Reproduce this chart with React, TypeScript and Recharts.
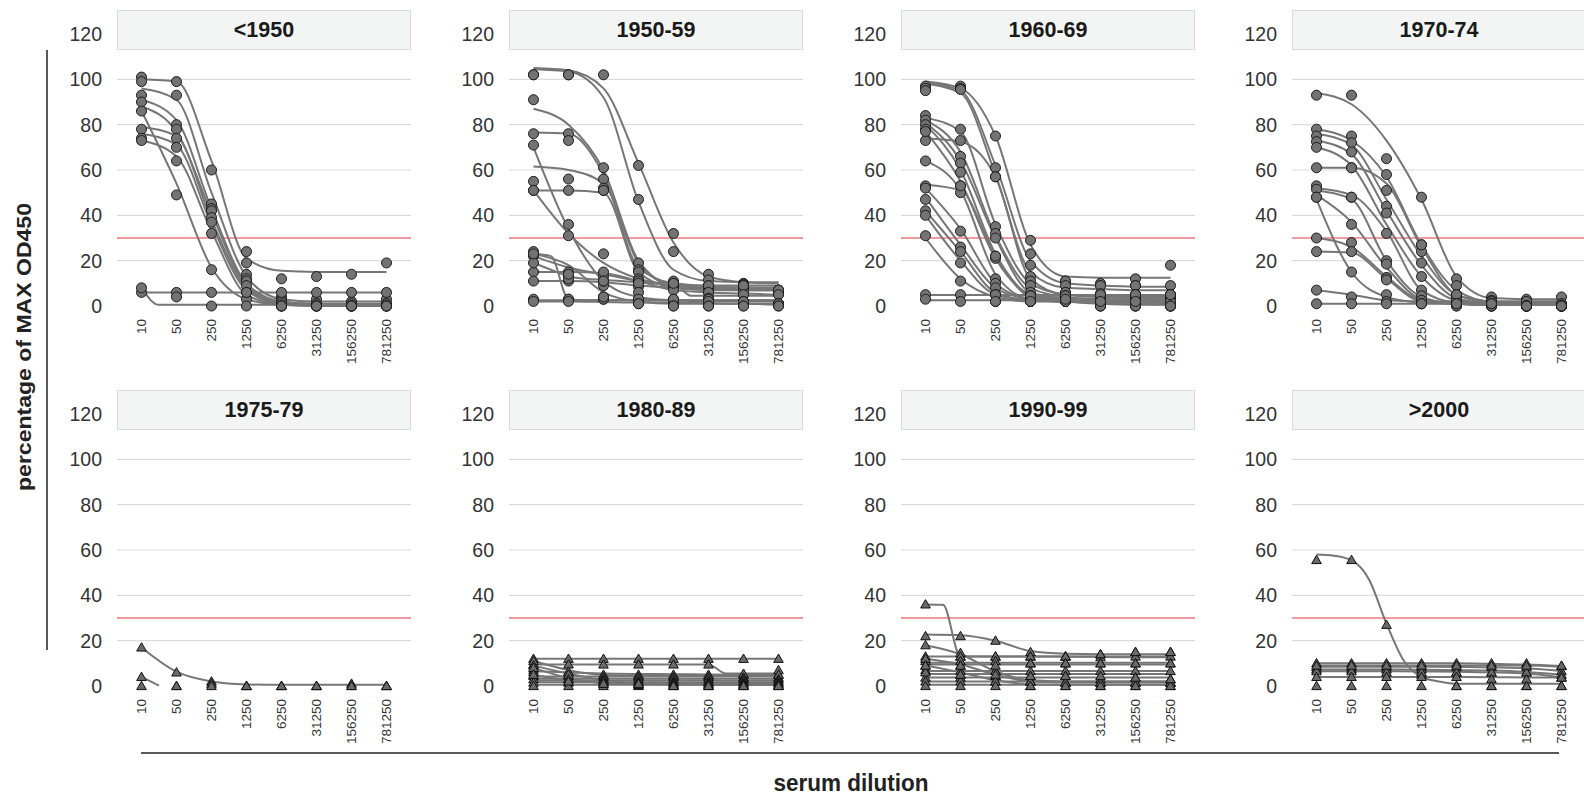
import React from 'react';
import { ComposedChart, Line, Scatter, XAxis, YAxis, CartesianGrid, ReferenceLine } from 'recharts';

const DILUTIONS = ['10', '50', '250', '1250', '6250', '31250', '156250', '781250'];
const Y_TICKS = [0, 20, 40, 60, 80, 100, 120];
const GRID_VALUES = [20, 40, 60, 80, 100];
const CUTOFF = 30;
const _ = null;

// measured OD450 (% of max) per serum, one value per dilution
// fitted curves: 8 values = one per dilution, 15 values = half-dilution steps
const pts1950 = [
  [101, 99, 60, 24, 12, 13, 14, 19],
  [99, 93, 45, 19, 4, 3, 2, 3],
  [93, 80, 43, 14, 3, 1, 1, 1],
  [90, 78, 42, 12, 2, 1, 0, 1],
  [86, 49, 16, 3, 0, 0, 0, 0],
  [78, 74, 39, 11, 1, 0, 0, 0],
  [74, 70, 37, 9, 0, 0, 0, 0],
  [73, 64, 32, 6, 0, 0, 0, 0],
  [6, 6, 6, 6, 6, 6, 6, 6],
  [8, 4, 0, 0, 0, 0, 0, 0],
];
const fit1950 = [
  [100, 99, 64, 21, 15.5, 15, 15, 15],
  [96, 91, 50, 13, 3, 2, 2, 2],
  [91, 82, 43, 10, 2, 1, 1, 1],
  [88, 77, 41, 9, 1.5, 1, 0.5, 0.5],
  [86, 54, 17, 3, 0.5, 0, 0, 0],
  [79, 75, 38, 8, 1, 0.5, 0.5, 0.5],
  [76, 71, 36, 7, 1, 0.5, 0, 0],
  [73, 66, 33, 5, 0.5, 0, 0, 0],
  [6, 6, 6, 6, 6, 6, 6, 6],
  [8, 0.5, 0.5, 0.5, 0.5, 0.5, 0.5, 0.5, 0.5, 0.5, 0.5, 0.5, 0.5, 0.5, 0.5],
];

const pts1950s = [
  [102, 102, 102, 62, 32, 14, 10, 7],
  [102, 102, 61, 47, 24, 11.5, 9.5, 6],
  [91, 76, 56, 19, 9, 9, 8, 7],
  [76, 73, 52, 16, 11, 9, 9, 6],
  [55, 56, 51, 15, 10, 8.5, 8, 6],
  [51, 51, 51, 12, 8.5, 6, 5, 5],
  [71, 36, 9, 3, 1, 2, 2, 1],
  [51, 31, 23, 11, 9, 8, 7, 7],
  [24, 3, 3, 2, 1, 2, 2, 1],
  [22, 15, 13, 11, 9, 9, 9, 7],
  [15, 13, 15, 8.5, 7, 6, 5, 5],
  [19, 11, 11, 10, 10, 3.5, 2, 1],
  [11, 12, 11, 6, 3, 3, 2, 1],
  [3, 3, 4, 3, 3, 2, 2, 1],
  [2, 2, 3, 1, 0, 0, 0, 0],
  [23, 14, 4, 1, 0, 0, 0, 0],
];
const fit1950s = [
  [105, 104, 96, 63, 28, 13, 10.5, 10],
  [104.5, 103.5, 92, 46, 16, 11, 10.5, 10.5],
  [87, 80, 60, 20, 9, 8, 8, 8],
  [76.5, 76, 58, 17, 10, 9, 9, 9],
  [61.5, 60, 54, 19, 9, 8, 8, 8],
  [51, 51, 50, 15, 8, 7, 7, 7],
  [70, 34, 11, 4, 2.5, 2, 2, 2],
  [51, 32, 19, 12, 9, 8, 7.5, 7],
  [23, 22, 3, 2.5, 2.5, 2.5, 2.5, 2.5, 2.5, 2.5, 2.5, 2.5, 2.5, 2.5, 2.5],
  [22, 17, 14, 11, 9, 8.5, 8, 7.5],
  [15, 15, 14.5, 11, 7, 6, 5.5, 5],
  [19, 16, 13, 12, 11.5, 11, 10.5, 10.3, 10, 4.5, 4.5, 4.5, 4.5, 4.5, 4.5],
  [11, 11, 10.5, 9, 8, 7.5, 7, 7],
  [2.5, 2.5, 2.5, 2.5, 2.5, 2.5, 2.5, 2.5],
  [2, 2, 1.8, 1.5, 1.5, 1.2, 1, 1],
  [23, 18, 6, 2, 1, 1, 1, 0.5],
];

const pts1960s = [
  [97, 97, 75, 29, 11, 10, 12, 18],
  [96, 96, 61, 23, 11, 9, 9, 9],
  [95, 95.5, 57, 18, 9, 9, 9, 5],
  [73, 73, 57, 13, 6, 5, 5, 5],
  [84, 78, 35, 11, 6, 5.5, 5, 4],
  [82, 66, 32, 9, 4.5, 3.5, 3, 3],
  [80, 63, 30, 6, 4.5, 3.5, 3, 3],
  [78, 59, 22, 4.5, 3, 2, 2, 2],
  [77, 53, 21, 4.5, 3, 2, 2, 2],
  [64, 50, 12, 2.5, 2, 2, 2, 2],
  [53, 53, 22, 4, 2, 0, 0, 0],
  [52, 33, 10, 3, 2, 2, 2, 2],
  [47, 26, 8, 2, 2, 2, 2, 0],
  [42, 24, 5, 2, 2, 0, 0, 0],
  [40, 19, 5, 2, 2, 2, 2, 2],
  [31, 11, 2, 2, 2, 0, 0, 0],
  [5, 5, 5, 4.5, 4.5, 5, 5, 5],
  [3, 2, 2, 2, 3, 2, 2, 0],
];
const fit1960s = [
  [99, 96, 75, 27, 13, 12.5, 12.5, 12.5],
  [98.5, 95, 62, 20, 10, 9, 8.5, 8.5],
  [98, 94, 58, 15, 8, 7.5, 7, 7],
  [74, 72.5, 57, 12, 5, 4.5, 4, 4],
  [83, 77, 36, 10, 5, 4, 4, 4],
  [82, 68, 31, 8, 4, 3, 3, 3],
  [81, 64, 30, 6, 3.5, 3, 3, 3],
  [80, 60, 23, 5, 3, 2, 2, 2],
  [77, 55, 21, 5, 2.5, 2, 2, 2],
  [64, 51, 14, 3, 2, 1.5, 1.5, 1.5],
  [53.5, 51, 22, 4, 2, 1, 0.5, 0.5],
  [52, 34, 10, 3, 2, 2, 2, 2],
  [48, 27, 8, 3, 2, 2, 2, 2],
  [42, 24, 6, 2.5, 2, 1.5, 1, 1],
  [40, 20, 5, 2.5, 2, 2, 2, 2],
  [30, 12, 4, 2, 2, 1.5, 1.5, 1.5],
  [4.8, 4.8, 4.8, 4.8, 4.8, 4.8, 4.8, 4.8],
  [2.5, 2.5, 2.5, 2.5, 2.5, 1.5, 1, 0.5],
];

const pts1970 = [
  [93, 93, 65, 48, 12, 4, 3, 4],
  [78, 75, 58, 27, 9, 2.5, 2, 1],
  [75, 72, 44, 24, 5, 2, 2, 1],
  [72.5, 68, 41, 19, 4, 1, 0, 0],
  [70, 61, 32, 13, 2.5, 1, 0, 0],
  [61, 61, 51, 27, 5, 1, 0, 0],
  [53, 48, 20, 7, 1, 1, 0, 0],
  [51.5, 48, 18.5, 4.5, 1, 0, 0, 0],
  [48, 36, 12.5, 2.5, 1, 0, 0, 0],
  [48, 15, 5, 1, 0, 0, 0, 0],
  [30, 28, 12.5, 2.5, 1, 0, 0, 0],
  [24, 24, 11.5, 1, 0, 0, 0, 0],
  [7, 4, 2, 1, 1, 1, 0, 0],
  [1, 1, 1, 1, 1, 1, 0, 0],
];
const fit1970 = [
  [94, 89, 73, 47, 13, 3.5, 3, 3],
  [78, 73, 57, 27, 7, 2, 2, 2],
  [76, 71, 47, 22, 5, 2, 1.5, 1.5],
  [73, 67, 42, 18, 3.5, 1, 1, 1],
  [70, 62, 36, 13, 2.5, 1, 0.5, 0.5],
  [61, 61, 54, 26, 5, 1.5, 1, 1],
  [52, 49, 33, 7, 1.5, 1, 0.5, 0.5],
  [51, 47, 20, 4, 1, 0.5, 0.5, 0.5],
  [49, 37, 17, 3, 1, 0.5, 0.5, 0.5],
  [47, 15, 4, 1.5, 1, 0.5, 0.5, 0.5],
  [30, 26, 13, 2.5, 1, 0.5, 0.5, 0.5],
  [24, 23.5, 12, 2, 1, 0.5, 0.5, 0.5],
  [7, 5, 2.5, 2, 2, 2, 2, 2],
  [1, 1, 1, 1, 1, 1, 1, 1],
];

const pts1975 = [
  [17, 6, 2, 0, 0, 0, 1, 0],
  [4, 0, 1, 0, 0, 0, 0, 0],
  [0, 0, 0, 0, 0, 0, 0, 0],
];
const fit1975 = [
  [17, 6.3, 2, 0.7, 0.5, 0.5, 0.5, 0.5],
  [4, 0.2, _, _, _, _, _, _, _, _, _, _, _, _, _],
];

const pts1980s = [
  [12, 12, 12, 12, 12, 12, 12, 12],
  [9.5, 9.5, 9.5, 9.5, 9.5, 9.5, 5, 5],
  [11, 6, 4.4, 4.4, 4.4, 4.4, 3.7, 3.7],
  [7, 6.3, 5, 5, 5, 5, 5.4, 7],
  [6, 4.4, 4, 4, 4, 4, 3.7, 5],
  [4.5, 3, 3, 3, 3, 3, 3, 3],
  [3, 3, 2.5, 2, 2, 2, 2.2, 2.2],
  [1.5, 1.5, 1.5, 1.5, 1.5, 1.5, 1.5, 1.5],
  [0, 0, 0, 0, 0, 0, 0, 0],
  [9, 5, 2, 1, 1, 1, 1, 1],
  [8, 3, 1, 0.5, 0.5, 0.5, 0.5, 0.5],
  [5, 2, 1, 1, 0, 0, 0, 0],
];
const fit1980s = [
  [12, 12, 12, 12, 12, 12, 12, 12],
  [9.5, 9.5, 9.5, 9.5, 9.5, 9.5, 9.5, 9.5, 9.5, 9.5, 9.5, 5.5, 5.5, 5.5, 5.5],
  [11, 7, 4.8, 4.5, 4.5, 4.5, 4.5, 4.5],
  [6.5, 6, 5.5, 5.3, 5.2, 5.1, 5, 5],
  [4.2, 4.2, 4.2, 4.2, 4.2, 4.2, 4.2, 4.2],
  [3.2, 3.2, 3.2, 3.2, 3.2, 3.2, 3.2, 3.2],
  [2.4, 2.4, 2.4, 2.4, 2.4, 2.4, 2.4, 2.4],
  [1.6, 1.6, 1.6, 1.6, 1.6, 1.6, 1.6, 1.6],
  [0.6, 0.6, 0.6, 0.6, 0.6, 0.6, 0.6, 0.6],
  [9, 5.5, 2.5, 1.2, 1, 1, 1, 1],
  [8, 3.5, 1.2, 0.8, 0.7, 0.7, 0.7, 0.7],
  [5, 2.5, 1.5, 1, 0.8, 0.6, 0.5, 0.5],
];

const pts1990s = [
  [36, 13, 13, 13, 13, 12.7, 13, 13],
  [22, 22, 20, 15, 13, 14, 15, 15],
  [18, 14.6, 6.6, 2, 1.5, 1.5, 1.5, 1.5],
  [13, 13, 13, 13, 13, 14, 15, 15],
  [11, 11, 11, 10, 10, 10, 10, 10],
  [7, 6.6, 6.6, 6.6, 6.6, 6.6, 6.6, 6.6],
  [3.7, 3.7, 4.4, 4.4, 4.4, 3, 3.7, 3],
  [12, 9, 4.4, 2, 1.5, 1.5, 1.5, 1.5],
  [9, 5, 2, 0, 0, 0, 0, 0],
  [2, 2, 2, 2, 1.5, 1.5, 1.5, 1.5],
  [0, 0, 0, 0, 0, 0, 0, 0],
  [6, 5, 5, 4.4, 4.4, 4.4, 3.7, 3],
  [9, 9, 9, 10, 10, 10, 10, 10],
];
const fit1990s = [
  [36, 35.8, 13, 13, 13, 13, 13, 13, 13, 12.9, 12.8, 12.7, 12.7, 12.7, 12.7],
  [22.7, 22.4, 20, 15.4, 14.2, 14, 14, 14],
  [18, 14, 6.5, 2.5, 2, 2, 2, 2],
  [13, 13, 13, 13, 13, 13, 13, 13],
  [10.3, 10.3, 10.3, 10.3, 10.3, 10.3, 10.3, 10.3],
  [6.6, 6.6, 6.6, 6.6, 6.6, 6.6, 6.6, 6.6],
  [3.8, 3.8, 3.8, 3.8, 3.8, 3.8, 3.8, 3.8],
  [12, 9.5, 5, 2, 1.5, 1.5, 1.5, 1.5],
  [9, 6, 2.5, 0.8, 0.5, 0.5, 0.5, 0.5],
  [2, 2, 2, 2, 2, 2, 2, 2],
  [0.5, 0.5, 0.5, 0.5, 0.5, 0.5, 0.5, 0.5],
  [5.3, 5.3, 5.3, 5.3, 5.3, 5.3, 5.3, 5.3],
  [9.5, 9.5, 9.5, 9.5, 9.5, 9.5, 9.5, 9.5],
];

const pts2000 = [
  [55.6, 55.6, 27, 5, 0, 0, 0, 0],
  [10, 10, 10, 10, 10, 10, 10, 8.8],
  [8.3, 8.3, 8.3, 8.3, 8.3, 8.3, 8.3, 6.6],
  [7.3, 7.3, 7.3, 7.3, 6, 6, 6, 5],
  [6.5, 6.5, 6, 6, 6, 6, 6, 3.7],
  [4, 4, 4, 4, 4, 3, 3, 3.7],
  [0, 0, 0, 0, 0, 0, 0, 0],
  [9, 9, 9, 9, 9, 9, 9, 9],
];
const fit2000 = [
  [58, 57.5, 55.5, 47, 27.5, 11, 4, 2, 1, 1, 1, 1, 1, 1, 1],
  [10, 10, 10, 10, 10, 9.8, 9.5, 8.8],
  [8.5, 8.5, 8.5, 8.5, 8.4, 8.2, 7.8, 6.6],
  [7.3, 7.3, 7.3, 7.2, 7, 6.8, 6.2, 5],
  [6.5, 6.5, 6.5, 6.4, 6.3, 6, 5.5, 3.8],
  [4, 4, 4, 4, 4, 3.9, 3.8, 3.7],
  [9, 9, 9, 9, 9, 9, 9, 8.5],
];

const PANELS = [
  { title: '<1950', points: pts1950, fits: fit1950, marker: 'circle' },
  { title: '1950-59', points: pts1950s, fits: fit1950s, marker: 'circle' },
  { title: '1960-69', points: pts1960s, fits: fit1960s, marker: 'circle' },
  { title: '1970-74', points: pts1970, fits: fit1970, marker: 'circle' },
  { title: '1975-79', points: pts1975, fits: fit1975, marker: 'triangle' },
  { title: '1980-89', points: pts1980s, fits: fit1980s, marker: 'triangle' },
  { title: '1990-99', points: pts1990s, fits: fit1990s, marker: 'triangle' },
  { title: '>2000', points: pts2000, fits: fit2000, marker: 'triangle' },
];

// layout
const COL_X = [117, 509, 901, 1292];
const ROW_Y = [34, 414];
const PLOT_W = 294;
const PLOT_H = 272;
const AXIS_W = 60;
const TOP_PAD = 10;
const X_AXIS_H = 60;
const FONT = '"Liberation Sans", Arial, Helvetica, sans-serif';
const CURVE = '#767676';

const toCurve = (vals: (number | null)[]) => {
  const step = 7 / (vals.length - 1);
  return vals
    .map((y, i) => ({ x: i * step, y }))
    .filter((d) => d.y !== null);
};

const toDots = (rows: number[][]) =>
  rows.flatMap((row) => row.map((y, i) => ({ x: i, y })));

const XTick = ({ x, y, payload }: any) => (
  <g transform={`translate(${x},${y})`}>
    <text transform="rotate(-90)" textAnchor="end" dy="0.36em" fontSize={13.5} fill="#333" fontFamily={FONT}>
      {DILUTIONS[payload.value]}
    </text>
  </g>
);

const YTick = ({ x, y, payload }: any) => (
  <text x={x} y={y} textAnchor="end" dominantBaseline="central" fontSize={19.5} fill="#333" fontFamily={FONT}>
    {payload.value}
  </text>
);

const Circle = ({ cx, cy }: any) => (
  <circle cx={cx} cy={cy} r={5} fill="#737373" stroke="#1c1c1c" strokeWidth={1} />
);

const Triangle = ({ cx, cy }: any) => (
  <path
    d={`M${cx},${cy - 4.8} L${cx + 4.8},${cy + 3.6} L${cx - 4.8},${cy + 3.6} Z`}
    fill="#6a6a6a"
    stroke="#111"
    strokeWidth={1}
  />
);

function Panel({ panel, index }: { panel: (typeof PANELS)[number]; index: number }) {
  const left = COL_X[index % 4];
  const top = ROW_Y[Math.floor(index / 4)];
  const Marker = panel.marker === 'circle' ? Circle : Triangle;

  return (
    <>
      <div style={{ position: 'absolute', left: left - AXIS_W, top: top - TOP_PAD }}>
        <ComposedChart
          width={AXIS_W + PLOT_W}
          height={TOP_PAD + PLOT_H + X_AXIS_H}
          margin={{ top: TOP_PAD, right: 0, bottom: 0, left: 0 }}
        >
          <CartesianGrid vertical={false} horizontalValues={GRID_VALUES} stroke="#dcdcdc" strokeWidth={1.2} />
          <XAxis
            type="number"
            dataKey="x"
            domain={[-0.7, 7.7]}
            ticks={[0, 1, 2, 3, 4, 5, 6, 7]}
            interval={0}
            axisLine={false}
            tickLine={false}
            tickSize={0}
            tickMargin={13}
            height={X_AXIS_H}
            tick={(p: any) => <XTick {...p} />}
          />
          <YAxis
            type="number"
            dataKey="y"
            domain={[0, 120]}
            ticks={Y_TICKS}
            interval={0}
            axisLine={false}
            tickLine={false}
            tickSize={0}
            tickMargin={15}
            width={AXIS_W}
            tick={(p: any) => <YTick {...p} />}
          />
          <ReferenceLine y={CUTOFF} stroke="#e4383c" strokeWidth={1.2} />
          {panel.fits.map((f, i) => (
            <Line
              key={`fit-${i}`}
              data={toCurve(f)}
              dataKey="y"
              type="monotone"
              stroke={CURVE}
              strokeWidth={2}
              dot={false}
              activeDot={false}
              isAnimationActive={false}
            />
          ))}
          <Scatter
            data={toDots(panel.points)}
            dataKey="y"
            shape={(p: any) => <Marker {...p} />}
            isAnimationActive={false}
          />
        </ComposedChart>
      </div>
      <div
        style={{
          position: 'absolute',
          left,
          top: top - 24,
          width: PLOT_W,
          height: 40,
          boxSizing: 'border-box',
          background: '#f3f4f4',
          border: '1px solid #dadada',
          display: 'flex',
          alignItems: 'center',
          justifyContent: 'center',
          fontFamily: FONT,
          fontWeight: 'bold',
          fontSize: 21.5,
          color: '#1a1a1a',
        }}
      >
        {panel.title}
      </div>
    </>
  );
}

export default function App() {
  return (
    <div
      style={{
        position: 'absolute',
        left: 0,
        top: 0,
        width: 1584,
        height: 799,
        overflow: 'hidden',
        background: '#fff',
        fontFamily: FONT,
      }}
    >
      {PANELS.map((p, i) => (
        <Panel key={p.title} panel={p} index={i} />
      ))}
      <svg width={1584} height={799} style={{ position: 'absolute', left: 0, top: 0, pointerEvents: 'none' }}>
        <line x1={47} x2={47} y1={50} y2={650} stroke="#222" strokeWidth={1.5} />
        <line x1={141} x2={1559} y1={753} y2={753} stroke="#222" strokeWidth={1.5} />
        <text
          transform="translate(31,347) rotate(-90)"
          textAnchor="middle"
          fontFamily={FONT}
          fontWeight="bold"
          fontSize={21}
          fill="#222"
          textLength={288}
          lengthAdjust="spacingAndGlyphs"
        >
          percentage of MAX OD450
        </text>
        <text
          x={851}
          y={791}
          textAnchor="middle"
          fontFamily={FONT}
          fontWeight="bold"
          fontSize={23}
          fill="#222"
          textLength={155}
          lengthAdjust="spacingAndGlyphs"
        >
          serum dilution
        </text>
      </svg>
    </div>
  );
}
